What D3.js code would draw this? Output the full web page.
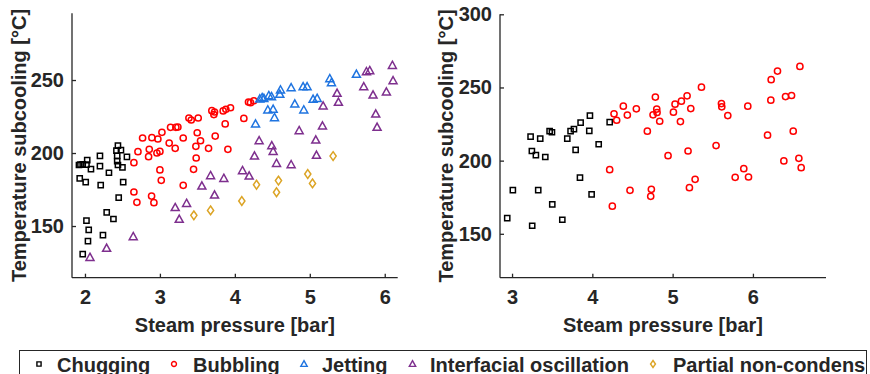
<!DOCTYPE html>
<html>
<head>
<meta charset="utf-8">
<script src="https://cdn.jsdelivr.net/npm/d3@7"></script>
<style>
  html, body { margin: 0; padding: 0; background: #fff; }
  svg { display: block; }
  text { font-family: "Liberation Sans", Arial, sans-serif; font-weight: bold; fill: #262626; }
</style>
</head>
<body>
<svg id="chart" width="870" height="374"></svg>
<script>
// Regime names and colours
const regimes = ["Chugging", "Bubbling", "Jetting", "Interfacial oscillation", "Partial non-condensable"];
const legendLabels = ["Chugging", "Bubbling", "Jetting", "Interfacial oscillation", "Partial non-condens"];
const regimeColors = ["#000000", "#ff0000", "#1f74e0", "#7e2f8e", "#dca425"];
const regimeShapes = ["square", "circle", "triangle", "triangle", "diamond"];

// Left panel: [steam pressure (bar), subcooling (°C)]
const leftChugging = [
  [1.92,191.8],[1.94,192.0],[1.97,192.2],[2.03,195.2],[2.02,192.0],[2.08,189.0],
  [2.20,198.0],[2.20,191.0],[2.32,186.5],[1.93,182.6],[2.01,180.0],[2.21,178.0],
  [2.44,205.0],[2.48,202.0],[2.42,201.6],[2.43,198.0],[2.43,194.5],[2.44,191.8],
  [2.50,190.2],[2.56,197.3],[2.51,180.0],[2.45,169.4],[2.29,159.4],[2.38,154.8],
  [2.24,143.8],[2.02,153.7],[2.05,147.3],[2.04,139.7],[1.97,130.8]
];
const leftBubbling = [
  [2.653,193.4],[2.707,200.9],[2.769,210.3],[2.893,210.5],[2.973,209.6],[3.027,214.2],
  [2.858,202.5],[2.849,197.5],[2.960,200.0],[3.000,201.1],[3.124,206.8],[3.142,217.6],
  [3.204,203.2],[3.213,217.6],[3.240,217.8],[3.311,210.3],[3.387,224.0],[3.418,222.6],
  [3.511,224.0],[3.498,213.9],[3.542,208.4],[3.480,204.6],[3.484,196.6],[3.649,203.2],
  [3.693,229.0],[3.729,228.1],[3.720,226.3],[3.738,211.6],[3.844,228.8],[3.880,229.9],
  [3.942,231.0],[3.871,219.9],[3.907,202.5],[4.120,223.7],[4.182,234.9],[4.209,234.5],
  [4.253,235.8],[3.000,188.4],[3.018,181.3],[3.311,177.9],[3.449,188.8],[2.653,173.3],
  [2.693,166.2],[2.889,170.5],[2.920,166.0]
];
const leftJetting = [
  [4.276,219.9],[4.333,237.0],[4.364,237.9],[4.387,237.4],[4.453,239.3],[4.489,238.6],
  [4.440,229.5],[4.511,230.0],[4.529,224.2],[4.609,243.2],[4.600,240.2],[4.751,244.7],
  [4.800,233.6],[4.911,245.4],[4.964,245.4],[4.920,229.5],[5.044,236.8],[5.098,237.4],
  [5.267,250.9],[5.289,248.2],[5.622,253.9]
];
const leftOscillation = [
  [2.067,128.5],[2.289,134.7],[2.644,142.7],[3.204,162.6],[3.258,154.6],[3.356,165.5],
  [3.560,177.4],[3.676,184.5],[3.729,171.2],[3.853,182.6],[4.102,187.9],[4.191,184.2],
  [4.262,197.9],[4.324,208.4],[4.493,205.0],[4.511,201.1],[4.556,192.9],[4.751,192.0],
  [4.858,215.3],[5.080,208.9],[5.089,198.4],[5.169,218.5],[5.178,232.2],[5.364,240.9],
  [5.382,234.7],[5.720,245.4],[5.756,255.7],[5.800,256.4],[5.844,239.7],[5.880,226.7],
  [5.898,217.6],[6.022,241.8],[6.102,260.0],[6.111,249.5]
];
const leftPartial = [
  [3.453,157.3],[3.676,160.7],[4.093,167.1],[4.289,178.3],[4.556,173.1],[4.582,181.1],
  [4.973,185.6],[5.036,179.2],[5.311,197.9]
];

// Right panel: [steam pressure (bar), subcooling (°C)]
const rightChugging = [
  [3.231,216.4],[3.351,215.0],[3.247,206.6],[3.297,203.7],[3.414,202.5],[3.468,220.1],
  [3.497,219.4],[3.688,215.1],[3.729,220.1],[3.771,221.5],[3.792,207.3],[3.854,226.0],
  [3.962,220.3],[3.970,230.8],[4.079,211.2],[4.216,226.3],[3.846,188.4],[3.010,179.9],
  [3.326,179.9],[3.501,170.1],[3.626,159.6],[3.991,176.9],[2.940,160.7],[3.251,155.5]
];
const rightBubbling = [
  [4.270,232.0],[4.303,227.6],[4.386,237.2],[4.436,231.1],[4.548,235.4],[4.685,220.1],
  [4.756,231.3],[4.785,243.4],[4.802,235.2],[4.806,232.9],[4.839,226.9],[5.010,233.1],
  [5.030,238.6],[5.097,226.7],[5.109,240.6],[5.180,244.3],[5.226,235.6],[5.359,250.2],
  [5.608,239.0],[5.612,236.8],[5.687,230.8],[5.936,237.2],[6.223,241.3],[6.227,255.3],
  [6.306,261.2],[6.406,243.8],[6.481,244.5],[6.585,264.4],[6.182,217.4],[6.502,220.1],
  [5.541,210.3],[5.192,206.6],[4.943,203.4],[4.216,193.8],[4.249,168.9],[4.469,179.7],
  [4.735,180.4],[4.727,175.6],[5.209,181.5],[5.280,187.2],[5.779,188.6],[5.886,194.5],
  [5.945,188.8],[6.385,199.8],[6.572,201.6],[6.601,195.2]
];

// Axis ticks
const leftXTicks = [2, 3, 4, 5, 6];
const leftYTicks = [150, 200, 250];
const rightXTicks = [3, 4, 5, 6];
const rightYTicks = [150, 200, 250, 300];

const axisColor = "#262626";
const svg = d3.select("#chart");

// Marker path generators, centred on the data point
const markerPath = {
  square:   s => { const h = 2.6 * s; return `M${-h},${-h}H${h}V${h}H${-h}Z`; },
  circle:   s => { const r = 3.1 * s; return `M${r},0A${r},${r} 0 1,1 ${-r},0A${r},${r} 0 1,1 ${r},0Z`; },
  triangle: s => `M0,${-4.2 * s}L${4 * s},${3 * s}L${-4 * s},${3 * s}Z`,
  diamond:  s => `M0,${-4.4 * s}L${3.1 * s},0L0,${4.4 * s}L${-3.1 * s},0Z`
};

function drawPanel(cfg) {
  const g = svg.append("g");
  const x = d3.scaleLinear().domain(cfg.xDomain).range(cfg.xRange);
  const y = d3.scaleLinear().domain(cfg.yDomain).range(cfg.yRange);

  // Series, drawn in regime order
  cfg.series.forEach(s => {
    const idx = regimes.indexOf(s.name);
    g.append("g").selectAll("path").data(s.data).join("path")
      .attr("d", markerPath[regimeShapes[idx]](1))
      .attr("transform", d => `translate(${x(d[0])},${y(d[1])})`)
      .attr("fill", "none")
      .attr("stroke", regimeColors[idx])
      .attr("stroke-width", 1.5);
  });

  // Axes with inward ticks
  const xAxis = d3.axisBottom(x).tickValues(cfg.xTicks).tickSize(-4).tickPadding(12).tickFormat(d3.format("d"));
  const yAxis = d3.axisLeft(y).tickValues(cfg.yTicks).tickSize(-4).tickPadding(8).tickFormat(d3.format("d"));

  const gx = g.append("g").attr("transform", `translate(0,${cfg.yRange[0]})`).call(xAxis);
  const gy = g.append("g").attr("transform", `translate(${cfg.xRange[0]},0)`).call(yAxis);
  [gx, gy].forEach(a => {
    a.select(".domain").attr("stroke", axisColor).attr("stroke-width", 1.3);
    a.selectAll(".tick line").attr("stroke", axisColor).attr("stroke-width", 1.3);
    a.selectAll(".tick text").attr("font-size", 20).attr("fill", axisColor)
      .attr("font-family", "'Liberation Sans', Arial, sans-serif").attr("font-weight", "bold");
  });
  gx.select(".domain").attr("d", `M${cfg.xRange[0]},0H${cfg.xRange[1]}`);
  gy.select(".domain").attr("d", `M0,${cfg.yRange[0]}V${cfg.yRange[1]}`);
  gx.selectAll(".tick text").attr("dy", "0.71em");

  // Axis titles
  g.append("text")
    .attr("x", (cfg.xRange[0] + cfg.xRange[1]) / 2)
    .attr("y", 331.5)
    .attr("text-anchor", "middle")
    .attr("font-size", 20)
    .text("Steam pressure [bar]");
  g.append("text")
    .attr("transform", `translate(${cfg.yLabelX},${(cfg.yRange[0] + cfg.yRange[1]) / 2}) rotate(-90)`)
    .attr("text-anchor", "middle")
    .attr("font-size", 20)
    .text("Temperature subcooling [°C]");
}

drawPanel({
  xDomain: [1.827, 6.173], xRange: [72, 397.7],
  yDomain: [114.6, 295.7], yRange: [277.7, 13.3],
  xTicks: leftXTicks, yTicks: leftYTicks, yLabelX: 25.5,
  series: [
    { name: "Chugging", data: leftChugging },
    { name: "Bubbling", data: leftBubbling },
    { name: "Jetting", data: leftJetting },
    { name: "Interfacial oscillation", data: leftOscillation },
    { name: "Partial non-condensable", data: leftPartial }
  ]
});

drawPanel({
  xDomain: [2.85, 6.91], xRange: [500, 826],
  yDomain: [120, 300], yRange: [277.7, 14.3],
  xTicks: rightXTicks, yTicks: rightYTicks, yLabelX: 453,
  series: [
    { name: "Chugging", data: rightChugging },
    { name: "Bubbling", data: rightBubbling }
  ]
});

// Legend (single row, boxed)
const legend = svg.append("g");
legend.append("rect")
  .attr("x", 19.5).attr("y", 350.5).attr("width", 847).attr("height", 40)
  .attr("fill", "#fff").attr("stroke", axisColor).attr("stroke-width", 1);
const legendMarkerX = [39, 174, 304, 412.5, 653];
const legendTextX = [57, 193, 322, 430, 673];
regimes.forEach((name, i) => {
  legend.append("path")
    .attr("d", markerPath[regimeShapes[i]](0.8))
    .attr("transform", `translate(${legendMarkerX[i]},364)`)
    .attr("fill", "none")
    .attr("stroke", regimeColors[i])
    .attr("stroke-width", 1.4);
  legend.append("text")
    .attr("x", legendTextX[i]).attr("y", 371.6)
    .attr("font-size", 20)
    .text(legendLabels[i]);
});
</script>
</body>
</html>
